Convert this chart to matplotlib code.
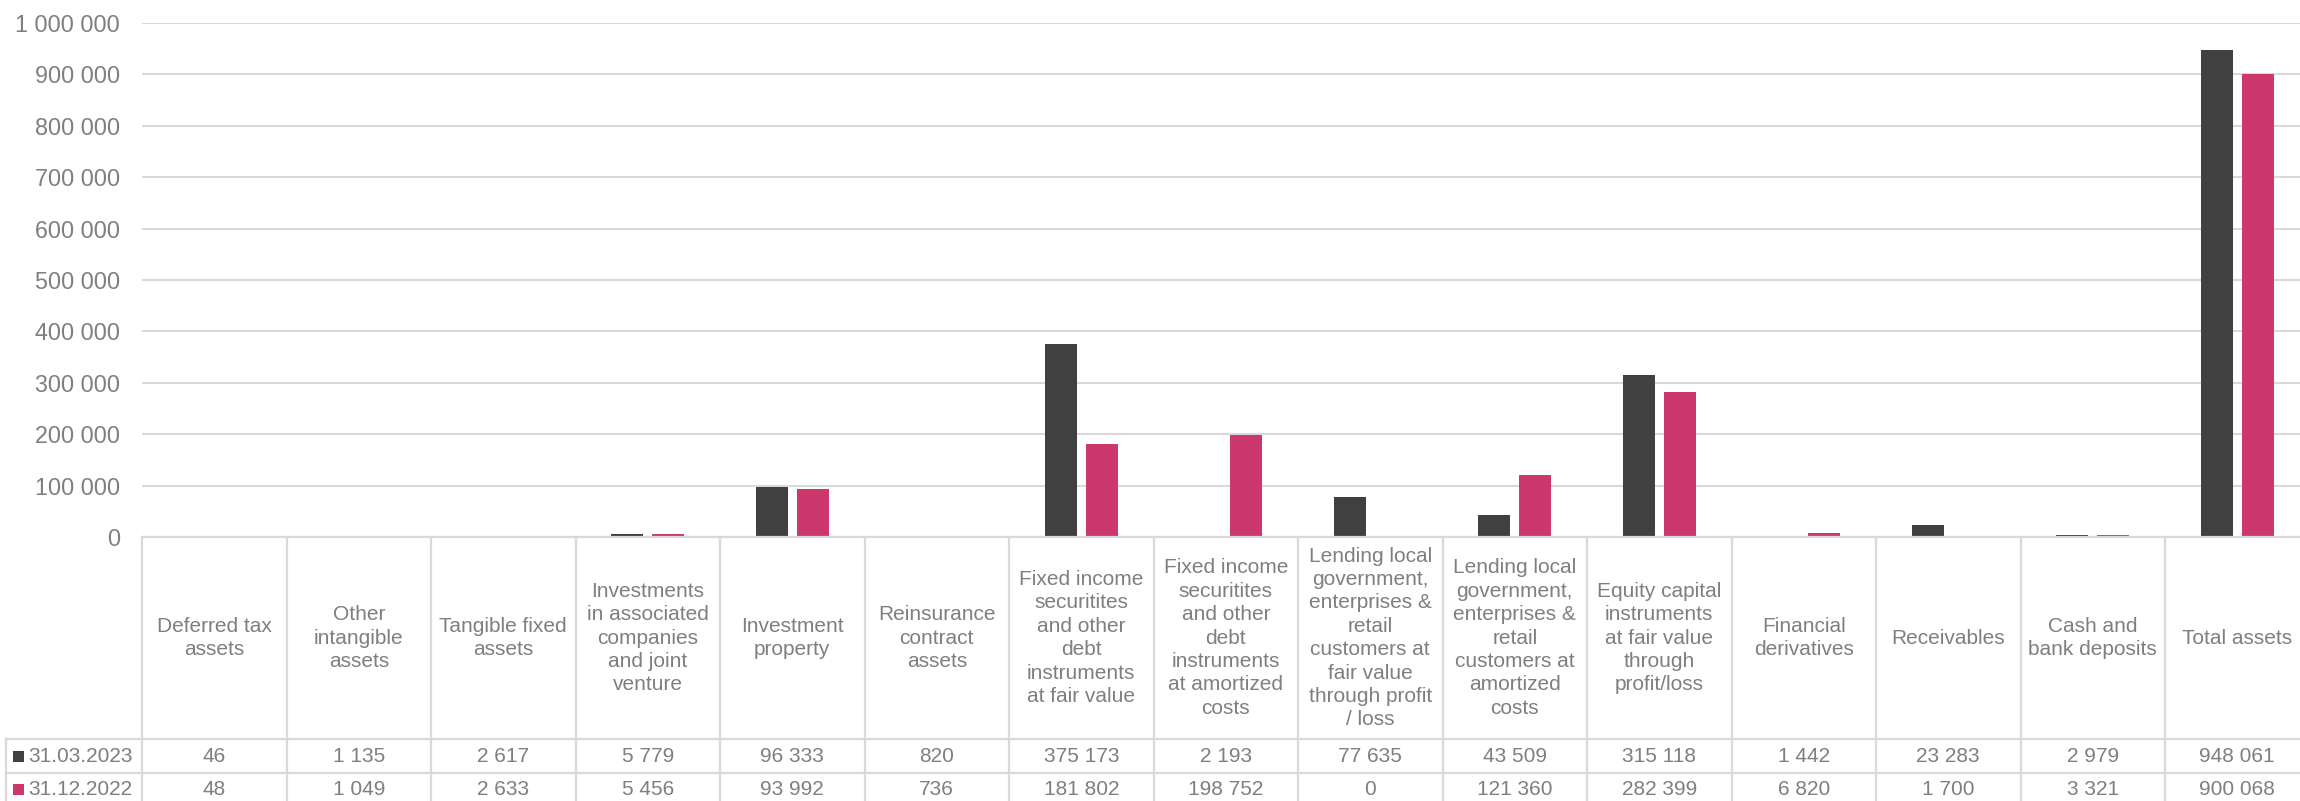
import matplotlib
matplotlib.use("Agg")
import matplotlib.pyplot as plt
from matplotlib.patches import Rectangle
from matplotlib.transforms import blended_transform_factory
from matplotlib.ticker import FuncFormatter

# ---------------- data ----------------
categories = [
    "Deferred tax\nassets",
    "Other\nintangible\nassets",
    "Tangible fixed\nassets",
    "Investments\nin associated\ncompanies\nand joint\nventure",
    "Investment\nproperty",
    "Reinsurance\ncontract\nassets",
    "Fixed income\nsecuritites\nand other\ndebt\ninstruments\nat fair value",
    "Fixed income\nsecuritites\nand other\ndebt\ninstruments\nat amortized\ncosts",
    "Lending local\ngovernment,\nenterprises &\nretail\ncustomers at\nfair value\nthrough profit\n/ loss",
    "Lending local\ngovernment,\nenterprises &\nretail\ncustomers at\namortized\ncosts",
    "Equity capital\ninstruments\nat fair value\nthrough\nprofit/loss",
    "Financial\nderivatives",
    "Receivables",
    "Cash and\nbank deposits",
    "Total assets",
]
series_names = ["31.03.2023", "31.12.2022"]
values_2023 = [46, 1135, 2617, 5779, 96333, 820, 375173, 2193, 77635, 43509,
               315118, 1442, 23283, 2979, 948061]
values_2022 = [48, 1049, 2633, 5456, 93992, 736, 181802, 198752, 0, 121360,
               282399, 6820, 1700, 3321, 900068]
y_ticks = [0, 100000, 200000, 300000, 400000, 500000, 600000, 700000, 800000,
           900000, 1000000]

# ---------------- style ----------------
W, H = 2300, 801
DPI = 100
C_DARK = "#404040"
C_PINK = "#CC386D"
C_GRID = "#D9D9D9"
C_TEXT = "#7F7F7F"
FONT = "Liberation Sans"
plt.rcParams["font.family"] = [FONT, "DejaVu Sans"]

fig = plt.figure(figsize=(W / DPI, H / DPI), dpi=DPI)
fig.patch.set_facecolor("white")

def fx(px):
    return px / W

def fy(py):
    return 1 - py / H

ax_left, ax_right = 142, 2309.5
ax_top, ax_bottom = 23, 537
ax = fig.add_axes([fx(ax_left), fy(ax_bottom), fx(ax_right) - fx(ax_left),
                   fy(ax_top) - fy(ax_bottom)])

n = len(categories)
xs = list(range(n))
bw = 0.222
off = 0.143
ax.bar([x - off for x in xs], values_2023, width=bw, color=C_DARK, zorder=3)
ax.bar([x + off for x in xs], values_2022, width=bw, color=C_PINK, zorder=3)

ax.set_xlim(-0.5, n - 0.5)
ax.set_ylim(0, 1000000)
ax.set_yticks(y_ticks)
ax.yaxis.set_major_formatter(FuncFormatter(lambda v, p: format(int(v), ",").replace(",", " ")))
ax.tick_params(axis="y", length=0, pad=16, labelsize=16.8, labelcolor=C_TEXT)
ax.set_xticks([])
ax.grid(axis="y", color=C_GRID, linewidth=1.5, zorder=0)
for s in ["top", "right", "left"]:
    ax.spines[s].set_visible(False)
ax.spines["bottom"].set_color(C_GRID)
ax.spines["bottom"].set_linewidth(1.6)
ax.spines["bottom"].set_zorder(4)

# ---------------- data table ----------------
tr = blended_transform_factory(ax.transData, fig.transFigure)
row_head_bottom = 739
row1_bottom = 773
row2_bottom = 808
table_fs = 15

line_kw = dict(color=C_GRID, linewidth=1.6, clip_on=False)
# vertical column lines
for k in range(n + 1):
    xk = k - 0.5
    ax.plot([xk, xk], [fy(ax_bottom), fy(row2_bottom)], transform=tr, **line_kw)
# horizontal row lines
for yb in (row_head_bottom, row1_bottom, row2_bottom):
    fig.add_artist(plt.Line2D([fx(6), fx(ax_right)], [fy(yb), fy(yb)],
                              transform=fig.transFigure, **line_kw))
fig.add_artist(plt.Line2D([fx(6), fx(6)], [fy(row_head_bottom), fy(row2_bottom)],
                          transform=fig.transFigure, **line_kw))

# category headers
head_center = (ax_bottom + row_head_bottom) / 2
for i, cat in enumerate(categories):
    ax.text(i, fy(head_center), cat, transform=tr, ha="center", va="center",
            fontsize=table_fs, color=C_TEXT, linespacing=1.29, clip_on=False,
            multialignment="center")

# value rows
row_centers = [(row_head_bottom + row1_bottom) / 2, (row1_bottom + row2_bottom) / 2 - 1]
fmt = lambda v: format(int(v), ",").replace(",", " ")
for vals, yc in zip([values_2023, values_2022], row_centers):
    for i, v in enumerate(vals):
        ax.text(i, fy(yc), fmt(v), transform=tr, ha="center", va="center",
                fontsize=table_fs, color=C_TEXT, clip_on=False)

# legend keys in table
for name, col, yc in zip(series_names, [C_DARK, C_PINK], row_centers):
    fig.add_artist(Rectangle((fx(13.3), fy(yc + 5.5)), fx(11), 11 / H,
                             transform=fig.transFigure, facecolor=col,
                             edgecolor="none"))
    fig.text(fx(28.3), fy(yc), name, ha="left", va="center",
             fontsize=table_fs, color=C_TEXT)

fig.savefig("out.png", dpi=DPI, facecolor="white")
